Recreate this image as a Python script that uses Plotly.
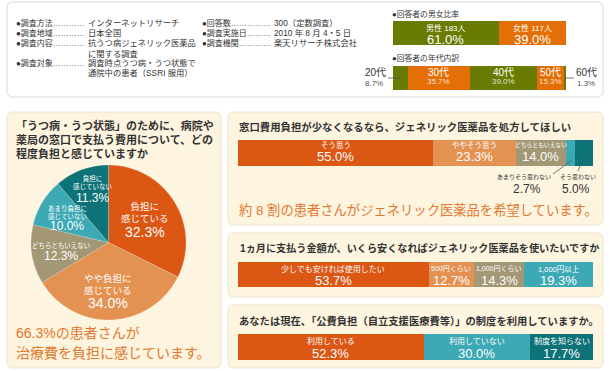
import plotly.graph_objects as go

W, H = 610, 371

# ---------------- data ----------------
info_left_keys = ["●調査方法", "●調査地域", "●調査内容", "", "●調査対象", ""]
info_left_vals = ["インターネットリサーチ", "日本全国", "抗うつ病ジェネリック医薬品",
                  "に関する調査", "調査時点うつ病・うつ状態で", "通院中の患者（SSRI 服用）"]
info_right_keys = ["●回答数", "●調査実施日", "●調査機関"]
info_right_vals = ["300（定数調査）", "2010 年 8 月 4・5 日", "楽天リサーチ株式会社"]

gender_title = "●回答者の男女比率"
gender_labels = ["男性 183人", "女性 117人"]
gender_pct = [61.0, 39.0]

age_title = "●回答者の年代内訳"
age_labels = ["20代", "30代", "40代", "50代", "60代"]
age_pct = [8.7, 35.7, 39.0, 15.3, 1.3]

pie_title = ["「うつ病・うつ状態」のために、病院や",
             "薬局の窓口で支払う費用について、どの",
             "程度負担と感じていますか"]
pie_labels = ["負担に<br>感じている", "やや負担に<br>感じている", "どちらともいえない",
              "あまり負担に<br>感じていない", "負担に<br>感じていない"]
pie_pct = [32.3, 34.0, 12.3, 10.0, 11.3]
pie_note = ["66.3%の患者さんが", "治療費を負担に感じています。"]

q2_title = "窓口費用負担が少なくなるなら、ジェネリック医薬品を処方してほしい"
q2_labels = ["そう思う", "ややそう思う", "どちらともいえない", "あまりそう思わない", "そう思わない"]
q2_pct = [55.0, 23.3, 14.0, 2.7, 5.0]
q2_note = "約 8 割の患者さんがジェネリック医薬品を希望しています。"

q3_title = "1ヵ月に支払う金額が、いくら安くなればジェネリック医薬品を使いたいですか"
q3_labels = ["少しでも安ければ使用したい", "500円くらい", "1,000円くらい", "1,000円以上"]
q3_pct = [53.7, 12.7, 14.3, 19.3]

q4_title = "あなたは現在、「公費負担（自立支援医療費等）」の制度を利用していますか。"
q4_labels = ["利用している", "利用していない", "制度を知らない"]
q4_pct = [52.3, 30.0, 17.7]

# ---------------- style ----------------
FONT = "Liberation Sans, Noto Sans CJK JP, sans-serif"
C_DOR = "#DC5614"
C_LOR = "#E49252"
C_KHA = "#A39775"
C_LTE = "#3DA9B4"
C_DTE = "#0D7378"
C_OLV = "#6A7B04"
C_ORG = "#E36F06"
C_TXT = "#333333"
C_NOTE = "#E3772E"
CREAM = "#FEF5E0"
CREAM_LINE = "#EEE3CA"

fig = go.Figure()
annotations = []
shapes = []


def px(x):
    return x / W


def py(y):
    return 1 - y / H


def txt(x, y, text, size, color=C_TXT, xanchor="center", xref="paper", bold=False):
    annotations.append(dict(
        x=x if xref != "paper" else px(x), y=py(y), xref=xref, yref="paper",
        text=("<b>%s</b>" % text) if bold else text, showarrow=False,
        xanchor=xanchor, yanchor="middle",
        font=dict(family=FONT, size=size, color=color), borderpad=0))


def rrect(x0, y0, x1, y1, r, fill, line):
    rx, ry = r / W, r / H
    X0, X1, Y0, Y1 = px(x0), px(x1), py(y0), py(y1)
    path = (f"M {X0+rx},{Y0} L {X1-rx},{Y0} Q {X1},{Y0} {X1},{Y0-ry} "
            f"L {X1},{Y1+ry} Q {X1},{Y1} {X1-rx},{Y1} L {X0+rx},{Y1} "
            f"Q {X0},{Y1} {X0},{Y1+ry} L {X0},{Y0-ry} Q {X0},{Y0} {X0+rx},{Y0} Z")
    shapes.append(dict(type="path", path=path, xref="paper", yref="paper",
                       fillcolor=fill, line=dict(color=line, width=1), layer="below"))


def seg_line(x0, y0, x1, y1, color="#555555"):
    shapes.append(dict(type="line", x0=px(x0), y0=py(y0), x1=px(x1), y1=py(y1),
                       xref="paper", yref="paper", line=dict(color=color, width=0.8)))


layout_axes = {}


def add_bar(idx, pcts, colors, x0, x1, y0, y1):
    xa = "x" if idx == 1 else f"x{idx}"
    ya = "y" if idx == 1 else f"y{idx}"
    for p, c in zip(pcts, colors):
        fig.add_trace(go.Bar(x=[p], y=[0], orientation="h", width=1,
                             marker=dict(color=c, line=dict(width=0)),
                             xaxis=xa, yaxis=ya, showlegend=False, hoverinfo="skip"))
    key = "" if idx == 1 else str(idx)
    layout_axes["xaxis" + key] = dict(domain=[px(x0), px(x1)], range=[0, 100], visible=False,
                                      fixedrange=True, anchor=ya)
    layout_axes["yaxis" + key] = dict(domain=[py(y1), py(y0)], range=[-0.5, 0.5], visible=False,
                                      fixedrange=True, anchor=xa)
    return xa


def mids(pcts):
    out, c = [], 0
    for p in pcts:
        out.append(c + p / 2)
        c += p
    return out


# ---------------- panels ----------------
rrect(7, 2, 603, 97, 6, "#FFFFFF", "#D9D9D9")
rrect(7, 112, 221, 368, 6, CREAM, CREAM_LINE)
rrect(228, 112, 603, 225, 6, CREAM, CREAM_LINE)
rrect(228, 233, 603, 297, 6, CREAM, CREAM_LINE)
rrect(228, 305, 603, 368, 6, CREAM, CREAM_LINE)

# ---------------- survey info ----------------
rows_left = [23, 33, 43.3, 53.5, 63.3, 73.3]
for k, v, y in zip(info_left_keys, info_left_vals, rows_left):
    if k:
        txt(86, y, k + "…" * 4, 8, xanchor="right")
    txt(87, y, v, 8.3, xanchor="left")
dots_right = [5, 3, 4]
for k, v, y, d in zip(info_right_keys, info_right_vals, rows_left[:3], dots_right):
    txt(272, y, k + "…" * d, 8, xanchor="right")
    txt(273, y, v, 8.3, xanchor="left")

# ---------------- gender bar ----------------
txt(391, 14, gender_title, 7.8, xanchor="left")
xa = add_bar(1, gender_pct, [C_OLV, C_ORG], 393, 566, 21, 45)
for m, lab, p in zip(mids(gender_pct), gender_labels, gender_pct):
    txt(m, 27.5, lab, 8, "#FFFFFF", xref=xa)
    txt(m, 39.5, f"{p:.1f}%", 13, "#FFFFFF", xref=xa)

# ---------------- age bar ----------------
txt(391, 58, age_title, 7.8, xanchor="left")
xa = add_bar(2, age_pct, [C_OLV, C_ORG, C_OLV, C_ORG, C_OLV], 393, 566, 66, 90)
am = mids(age_pct)
for i in (1, 2, 3):
    txt(am[i], 72, age_labels[i], 10, "#FFFFFF", xref=xa)
    txt(am[i], 81.5, f"{age_pct[i]:.1f}%", 8, "rgba(255,255,255,0.8)", xref=xa)
txt(375, 72.5, age_labels[0], 10, "#333333")
txt(374, 83, f"{age_pct[0]:.1f}%", 8, "#555555")
seg_line(388, 78, 400, 78)
txt(586, 72.5, age_labels[4], 10, "#333333")
txt(586, 83, f"{age_pct[4]:.1f}%", 8, "#555555")
seg_line(565, 78, 574, 78)

# ---------------- pie ----------------
for i, line in enumerate(pie_title):
    txt(15, 125 + 14 * i, line, 11, xanchor="left", bold=True)
fig.add_trace(go.Pie(values=pie_pct, labels=pie_labels, sort=False, direction="clockwise",
                     rotation=0, textinfo="none", hoverinfo="skip", showlegend=False,
                     marker=dict(colors=[C_DOR, C_LOR, C_KHA, C_LTE, C_DTE],
                                 line=dict(color="rgba(255,255,255,0.35)", width=0.5)),
                     domain=dict(x=[px(31), px(186)], y=[py(320), py(165)])))
pie_pos = [(145, 212.5, 9.5, 232, 14), (108, 284.5, 9.5, 302.5, 14), (61, 246, 6.5, 256, 12),
           (67, 211.5, 6.5, 226, 12), (92, 181.5, 6.5, 198, 12)]
for lab, p, (x, yl, fl, yp, fp) in zip(pie_labels, pie_pct, pie_pos):
    txt(x, yl, lab, fl, "#FFFFFF")
    txt(x, yp, f"{p:.1f}%", fp, "#FFFFFF")
txt(15, 333, pie_note[0], 14, C_NOTE, xanchor="left")
txt(15, 353, pie_note[1], 14, C_NOTE, xanchor="left")

# ---------------- Q2 ----------------
txt(238, 127, q2_title, 10.4, xanchor="left", bold=True)
xa = add_bar(3, q2_pct, [C_DOR, C_LOR, C_KHA, C_LTE, C_DTE], 238, 593, 140, 166)
qm = mids(q2_pct)
for i, fs in zip((0, 1, 2), (7.5, 7.5, 5.8)):
    txt(qm[i], 145, q2_labels[i], fs, "#FFFFFF", xref=xa)
    txt(qm[i], 157, f"{q2_pct[i]:.1f}%", 13, "#FFFFFF", xref=xa)
txt(524, 178, q2_labels[3], 6, "#333333")
txt(527, 189, f"{q2_pct[3]:.1f}%", 12, "#333333")
txt(578, 178, q2_labels[4], 6, "#333333")
txt(576, 189, f"{q2_pct[4]:.1f}%", 12, "#333333")
seg_line(553, 174, 572, 160)
seg_line(578, 171, 583, 159)
txt(238, 210, q2_note, 13.3, C_NOTE, xanchor="left")

# ---------------- Q3 ----------------
txt(239, 248, q3_title, 10.15, xanchor="left", bold=True)
xa = add_bar(4, q3_pct, [C_DOR, C_LOR, C_KHA, C_LTE], 238, 593, 262, 287)
for m, lab, p, fs in zip(mids(q3_pct), q3_labels, q3_pct, (8, 7, 7, 7.5)):
    txt(m, 269, lab, fs, "#FFFFFF", xref=xa)
    txt(m, 280, f"{p:.1f}%", 13, "#FFFFFF", xref=xa)

# ---------------- Q4 ----------------
txt(238, 321, q4_title, 10.3, xanchor="left", bold=True)
xa = add_bar(5, q4_pct, [C_DOR, C_LTE, C_DTE], 238, 593, 334, 360)
for m, lab, p in zip(mids(q4_pct), q4_labels, q4_pct):
    txt(m, 341, lab, 8, "#FFFFFF", xref=xa)
    txt(m, 353, f"{p:.1f}%", 13, "#FFFFFF", xref=xa)

fig.update_layout(
    width=W, height=H, margin=dict(l=0, r=0, t=0, b=0),
    paper_bgcolor="#FFFFFF", plot_bgcolor="rgba(0,0,0,0)",
    barmode="stack", bargap=0, showlegend=False,
    annotations=annotations, shapes=shapes, **layout_axes)

fig.write_html("out.html", config={"displayModeBar": False},
               post_script="document.body.style.margin='0';document.body.style.padding='0';")
